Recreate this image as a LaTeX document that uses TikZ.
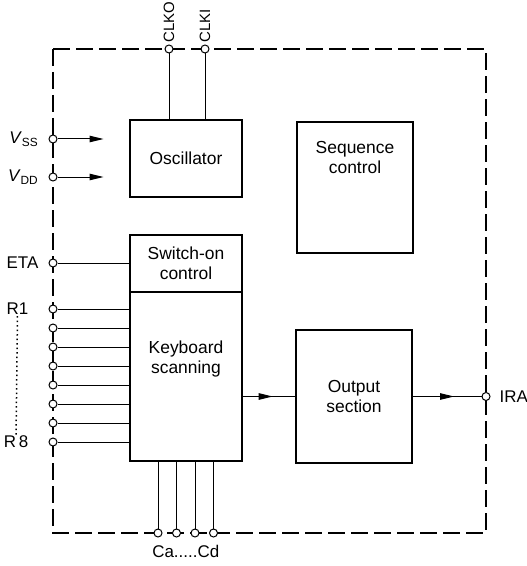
\documentclass[tikz,border=0pt]{standalone}
\usepackage{fontspec}
\setmainfont{Liberation Sans}
\usetikzlibrary{arrows.meta,positioning,calc,decorations.markings}
\tikzset{
  blkbox/.style    = {rectangle, draw, line width=1.6bp, align=center,
                       font=\fontsize{17.5}{20.5}\selectfont},
  pinnode/.style   = {circle, draw, fill=white, line width=1bp,
                       inner sep=0pt, minimum size=8bp},
  pinlbl/.style    = {font=\fontsize{17}{20}\selectfont, inner sep=1bp},
  sigline/.style   = {line width=1bp},
  inarrow/.style   = {sigline, -{Triangle[length=14bp,width=6.5bp]}},
  midarrow/.style  = {sigline, postaction={decorate},
                       decoration={markings, mark=at position #1 with
                         {\arrow{Triangle[length=14bp,width=6.5bp]}}}},
  midarrow/.default = 0.57,
  chipframe/.style = {line width=1.5bp, dash pattern=on 17bp off 6bp},
  dotline/.style   = {line width=1.5bp, dash pattern=on 1.5bp off 3bp},
}

\begin{document}
\begin{tikzpicture}[x=1bp, y=-1bp]
\useasboundingbox (0,0) rectangle (527,566);
\draw[chipframe] (53,49) rectangle (486,533);

% blocks
\node[blkbox, minimum width=112bp, minimum height=77bp] (osc) at (186,158.5) {Oscillator};
\node[blkbox, minimum width=116bp, minimum height=131bp,
      label={[pinlbl, font=\fontsize{17.5}{20.5}\selectfont, align=center, anchor=north, yshift=-19bp]north:{Sequence\\control}}]
      (seq) at (355,187.5) {};
\node[blkbox, minimum width=112bp, minimum height=57bp] (swon) at (186,263.5) {Switch-on\\control};
\node[blkbox, minimum width=112bp, minimum height=169bp, below=-1.6bp of swon,
      label={[pinlbl, font=\fontsize{17.5}{20.5}\selectfont, align=center, anchor=north, yshift=-48bp]north:{Keyboard\\scanning}}]
      (kbd) {};
\node[blkbox, minimum width=116bp, minimum height=133bp] (outs) at (354,396.5) {Output\\section};

% pins
\node[pinnode] (clko) at (169,49) {};
\node[pinnode] (clki) at (205,49) {};
\node[pinnode] (vss) at (53,139) {};
\node[pinnode] (vdd) at (53,177) {};
\node[pinnode] (eta) at (53,263) {};
\foreach \i in {1,...,8}
  \node[pinnode] (r\i) at (53,{290+19*\i}) {};
\foreach \c [count=\i] in {a,b,c,d}
  \node[pinnode] (c\c) at ({139.5+18.5*\i},533) {};
\node[pinnode] (ira) at (486,396.5) {};

% connections
\draw[sigline] (clko) -- (clko |- osc.north);
\draw[sigline] (clki) -- (clki |- osc.north);
\coordinate[right=46bp of vss] (vssend);
\coordinate[right=46bp of vdd] (vddend);
\draw[inarrow] (vss) -- (vssend);
\draw[inarrow] (vdd) -- (vddend);
\draw[sigline] (eta) -- (eta -| swon.west);
\foreach \i in {1,...,8}
  \draw[sigline] (r\i) -- (r\i -| kbd.west);
\foreach \c in {a,b,c,d}
  \draw[sigline] (c\c) -- (c\c |- kbd.south);
\draw[midarrow] (kbd.east |- outs.west) -- (outs.west);
\draw[midarrow=0.6] (outs.east) -- (ira);

% pin labels
\node[pinlbl, font=\fontsize{15}{18}\selectfont, above=1bp of clko, anchor=west, rotate=90] (clkolbl) {CLKO};
\node[pinlbl, font=\fontsize{15}{18}\selectfont, above=1bp of clki, anchor=west, rotate=90] (clkilbl) {CLKI};
\node[pinlbl, left=9bp of vss] (vsslbl) {\textit{V}\textsubscript{SS}};
\node[pinlbl, left=9bp of vdd] (vddlbl) {\textit{V}\textsubscript{DD}};
\node[pinlbl, left=9bp of eta] (etalbl) {ETA};
\node[pinlbl, left=19bp of r1] (r1lbl) {R1};
\node[pinlbl, left=19bp of r8] (r8lbl) {R\,8};
\draw[dotline] (r1lbl.south) -- (r8lbl.north);
\coordinate (cmid) at ($(cb)!0.5!(cc)$);
\node[pinlbl, below=11bp of cmid] (clbl) {Ca.....Cd};
\node[pinlbl, right=8bp of ira] (iralbl) {IRA};
\end{tikzpicture}
\end{document}
